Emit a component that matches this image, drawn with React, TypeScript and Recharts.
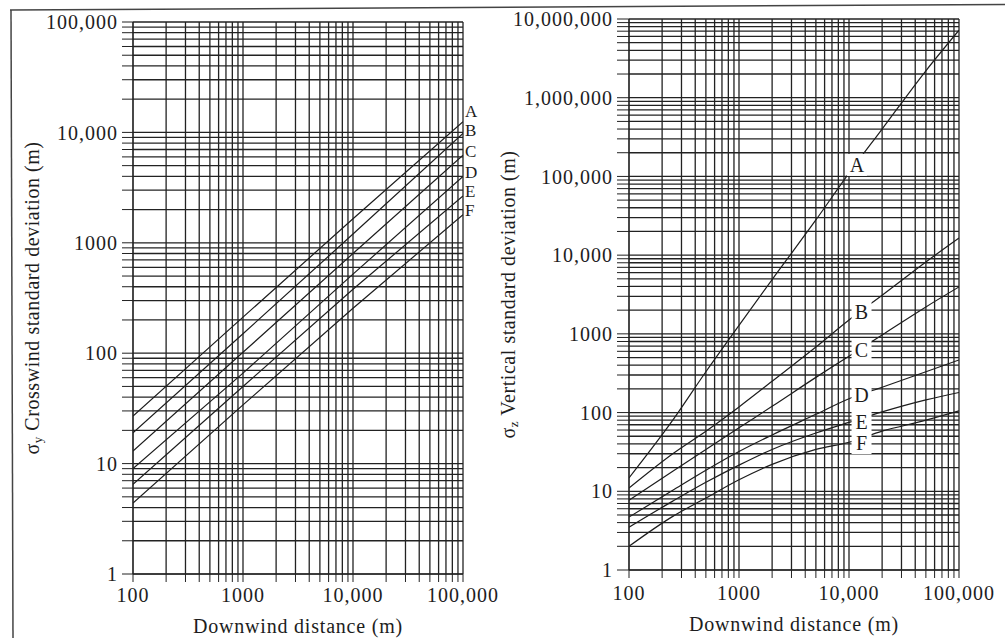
import React from "react";
import { CartesianGrid, Line, LineChart, ReferenceDot, XAxis, YAxis } from "recharts";

const FONT = '"Liberation Serif", "Times New Roman", serif';
const INK = "#1d1d1d";
const GRID = "#222";

// downwind distance axis, shared by both panels
const xDecades = [100, 1000, 10000, 100000];
const xDecadeLabels = ["100", "1000", "10,000", "100,000"];

// stability classes
const classes = ["A", "B", "C", "D", "E", "F"];

// left panel: sigma y (crosswind), straight lines on log-log paper
const yDecadesLeft = [1, 10, 100, 1000, 10000, 100000];
const yDecadeLabelsLeft = ["1", "10", "100", "1000", "10,000", "100,000"];
const sigmaYDistance = [100, 1000, 10000, 100000];
const sigmaY_A = [27, 212, 1650, 12500];
const sigmaY_B = [19, 150, 1200, 9800];
const sigmaY_C = [13, 102, 800, 6200];
const sigmaY_D = [9, 66, 520, 4000];
const sigmaY_E = [6.5, 50, 380, 2650];
const sigmaY_F = [4.4, 34, 255, 1800];
// where the class letters sit, just right of the line ends
const sigmaYLabelY = [15600, 10300, 6750, 4300, 2900, 1970];

// right panel: sigma z (vertical)
const yDecadesRight = [1, 10, 100, 1000, 10000, 100000, 1000000, 10000000];
const yDecadeLabelsRight = ["1", "10", "100", "1000", "10,000", "100,000", "1,000,000", "10,000,000"];
const sigmaZDistance = [100, 250, 500, 1000, 2000, 5000, 10000, 20000, 50000, 100000];
const sigmaZ_A = [14.8, 80, 330, 1280, 4900, 28000, 110000, 400000, 2200000, 7200000];
const sigmaZ_B = [11, 30, 58, 118, 250, 680, 1500, 3100, 8200, 16500];
const sigmaZ_C = [7.7, 18, 34, 64, 120, 280, 520, 970, 2200, 3950];
const sigmaZ_D = [4.7, 10.3, 18.5, 32, 52, 95, 150, 210, 330, 466];
const sigmaZ_E = [3.5, 7.5, 13, 21.5, 34, 55, 75, 102, 145, 180];
const sigmaZ_F = [2.0, 4.8, 8.2, 14, 22, 34, 42, 58, 80, 105];
// class letters sit on the curves, knocked out of the grid
const sigmaZLabelX = [11800, 13000, 13000, 13000, 13000, 13000];
const sigmaZLabelY = [140000, 1900, 630, 168, 77, 41];

const logGrid = (decades: number[]) =>
  decades
    .slice(0, -1)
    .flatMap((d) => [1, 2, 3, 4, 5, 6, 7, 8, 9].map((m) => d * m))
    .concat(decades[decades.length - 1]);

const labeller = (values: number[], labels: string[]) => (v: number) => {
  const i = values.indexOf(v);
  return i >= 0 ? labels[i] : "";
};

const toPoints = (xs: number[], vs: number[]) => xs.map((x, i) => ({ x, v: vs[i] }));

const sigmaYSeries = [sigmaY_A, sigmaY_B, sigmaY_C, sigmaY_D, sigmaY_E, sigmaY_F].map((vs) =>
  toPoints(sigmaYDistance, vs)
);
const sigmaZSeries = [sigmaZ_A, sigmaZ_B, sigmaZ_C, sigmaZ_D, sigmaZ_E, sigmaZ_F].map((vs) =>
  toPoints(sigmaZDistance, vs)
);

const tickStyle = { fill: INK, fontSize: 20, fontFamily: FONT, letterSpacing: 1 };

function SideTitle(props: any) {
  const { viewBox, sub, text, at } = props;
  const vb = viewBox || { x: 0, y: 0, width: 0, height: 0 };
  const cx = vb.x + at;
  const cy = vb.y + vb.height / 2;
  return (
    <text
      x={cx}
      y={cy}
      transform={`rotate(-90, ${cx}, ${cy})`}
      textAnchor="middle"
      dominantBaseline="central"
      fontFamily={FONT}
      fontSize={20}
      fill={INK}
      letterSpacing={0.55}
    >
      σ
      <tspan fontSize={13} dy={5}>
        {sub}
      </tspan>
      <tspan dy={-5}>{text}</tspan>
    </text>
  );
}

const endLabel = (letter: string) => (p: any) => (
  <text
    x={p.cx + 2}
    y={p.cy}
    dominantBaseline="central"
    fontFamily={FONT}
    fontSize={17}
    fill={INK}
  >
    {letter}
  </text>
);

const knockoutLabel = (letter: string) => (p: any) => (
  <g>
    <rect x={p.cx - 10} y={p.cy - 11} width={20} height={22} fill="#fff" />
    <text
      x={p.cx}
      y={p.cy}
      textAnchor="middle"
      dominantBaseline="central"
      fontFamily={FONT}
      fontSize={20}
      fill={INK}
    >
      {letter}
    </text>
  </g>
);

function SigmaYChart() {
  return (
    <LineChart width={500} height={638} margin={{ top: 22, right: 37, left: 0, bottom: 0 }}>
      <CartesianGrid stroke={GRID} strokeWidth={1.3} />
      <XAxis
        type="number"
        dataKey="x"
        scale="log"
        domain={[100, 100000]}
        allowDataOverflow
        ticks={logGrid(xDecades)}
        interval={0}
        tickFormatter={labeller(xDecades, xDecadeLabels)}
        tickSize={8}
        tickMargin={6}
        height={64}
        stroke={GRID}
        tick={tickStyle}
        label={{
          value: "Downwind distance (m)",
          position: "insideBottom",
          offset: 5,
          style: { fontFamily: FONT, fontSize: 20, fill: INK, letterSpacing: 0.8 },
        }}
      />
      <YAxis
        type="number"
        dataKey="v"
        scale="log"
        domain={[1, 100000]}
        allowDataOverflow
        ticks={logGrid(yDecadesLeft)}
        interval={0}
        tickFormatter={labeller(yDecadesLeft, yDecadeLabelsLeft)}
        tickSize={11}
        tickMargin={4}
        width={133}
        stroke={GRID}
        tick={tickStyle}
        label={<SideTitle sub="y" text=" Crosswind standard deviation (m)" at={32} />}
      />
      {sigmaYSeries.map((pts, i) => (
        <Line
          key={classes[i]}
          data={pts}
          dataKey="v"
          type="linear"
          stroke={INK}
          strokeWidth={1.2}
          dot={false}
          isAnimationActive={false}
        />
      ))}
      {classes.map((c, i) => (
        <ReferenceDot
          key={"l" + c}
          x={100000}
          y={sigmaYLabelY[i]}
          r={0}
          ifOverflow="visible"
          shape={endLabel(c)}
        />
      ))}
    </LineChart>
  );
}

function SigmaZChart() {
  return (
    <LineChart width={517} height={638} margin={{ top: 19, right: 46, left: 0, bottom: 0 }}>
      <CartesianGrid stroke={GRID} strokeWidth={1.3} />
      <XAxis
        type="number"
        dataKey="x"
        scale="log"
        domain={[100, 100000]}
        allowDataOverflow
        ticks={logGrid(xDecades)}
        interval={0}
        tickFormatter={labeller(xDecades, xDecadeLabels)}
        tickSize={8}
        tickMargin={8}
        height={68}
        stroke={GRID}
        tick={tickStyle}
        label={{
          value: "Downwind distance (m)",
          position: "insideBottom",
          offset: 7,
          style: { fontFamily: FONT, fontSize: 20, fill: INK, letterSpacing: 0.8 },
        }}
      />
      <YAxis
        type="number"
        dataKey="v"
        scale="log"
        domain={[1, 10000000]}
        allowDataOverflow
        ticks={logGrid(yDecadesRight)}
        interval={0}
        tickFormatter={labeller(yDecadesRight, yDecadeLabelsRight)}
        tickSize={12}
        tickMargin={4}
        width={141}
        stroke={GRID}
        tick={tickStyle}
        label={<SideTitle sub="z" text=" Vertical standard deviation (m)" at={20} />}
      />
      {sigmaZSeries.map((pts, i) => (
        <Line
          key={classes[i]}
          data={pts}
          dataKey="v"
          type="monotone"
          stroke={INK}
          strokeWidth={1.2}
          dot={false}
          isAnimationActive={false}
        />
      ))}
      {classes.map((c, i) => (
        <ReferenceDot
          key={"l" + c}
          x={sigmaZLabelX[i]}
          y={sigmaZLabelY[i]}
          r={0}
          ifOverflow="visible"
          shape={knockoutLabel(c)}
          {...({ zIndex: 2000 } as any)}
        />
      ))}
    </LineChart>
  );
}

export default function App() {
  return (
    <div style={{ position: "absolute", left: 0, top: 0, width: 1005, height: 638, background: "#fff" }}>
      <div style={{ position: "absolute", left: 0, top: 0 }}>
        <SigmaYChart />
      </div>
      <div style={{ position: "absolute", left: 488, top: 0 }}>
        <SigmaZChart />
      </div>
      <svg
        width={1005}
        height={638}
        style={{ position: "absolute", left: 0, top: 0, pointerEvents: "none" }}
      >
        <line x1={10} y1={10} x2={1005} y2={4.5} stroke="#444" strokeWidth={1.5} />
        <line x1={11} y1={10} x2={13} y2={638} stroke="#444" strokeWidth={1.5} />
      </svg>
    </div>
  );
}
